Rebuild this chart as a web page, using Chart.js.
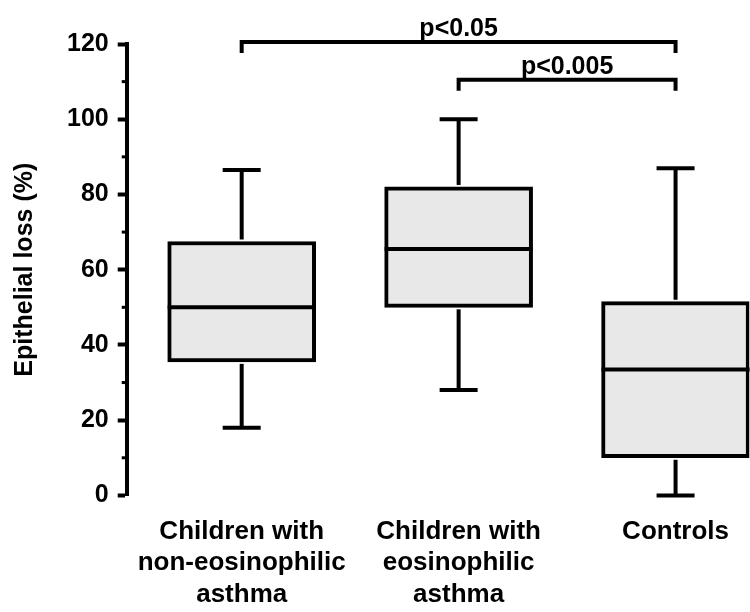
<!DOCTYPE html>
<html>
<head>
<meta charset="utf-8">
<script src="https://cdn.jsdelivr.net/npm/chart.js@4.4.1/dist/chart.umd.min.js"></script>
<style>
  html, body { margin: 0; padding: 0; background: #fff; }
  #wrap { width: 750px; height: 612px; }
</style>
</head>
<body>
<div id="wrap"><canvas id="lossChart"></canvas></div>
<script>
// groups and box plot values (Epithelial loss, %)
const categories = [
    ['Children with', 'non-eosinophilic', 'asthma'],
    ['Children with', 'eosinophilic', 'asthma'],
    ['Controls']
];
const whiskerLow = [18, 28, 0];
const q1 = [35.5, 50, 10];
const median = [50, 65.5, 33.5];
const q3 = [67.5, 82, 51.5];
const whiskerHigh = [86.5, 100, 87];

// significance brackets
const compareFrom = [0, 1];
const compareTo = [2, 2];
const compareLevel = [120.5, 110.5];
const compareLabels = ['p<0.05', 'p<0.005'];

const yTicks = [0, 20, 40, 60, 80, 100, 120];

const FONT = "'Liberation Sans', Arial, Helvetica, sans-serif";

function line(ctx, x1, y1, x2, y2) {
    ctx.beginPath();
    ctx.moveTo(x1, y1);
    ctx.lineTo(x2, y2);
    ctx.stroke();
}

// whiskers, medians, minor ticks and brackets
const boxExtras = {
    id: 'boxExtras',
    afterDatasetsDraw(chart) {
        const ctx = chart.ctx;
        const xs = chart.scales.x;
        const ys = chart.scales.y;
        const bars = chart.getDatasetMeta(0).data;
        const capHalf = 19;
        ctx.save();
        ctx.strokeStyle = '#000';
        ctx.lineWidth = 4;
        ctx.lineCap = 'butt';
        categories.forEach((c, i) => {
            const cx = xs.getPixelForValue(i);
            const top = ys.getPixelForValue(whiskerHigh[i]);
            const bot = ys.getPixelForValue(whiskerLow[i]);
            line(ctx, cx, ys.getPixelForValue(q3[i]) - 2, cx, top);
            line(ctx, cx, ys.getPixelForValue(q1[i]) + 2, cx, bot);
            line(ctx, cx - capHalf, top, cx + capHalf, top);
            line(ctx, cx - capHalf, bot, cx + capHalf, bot);
            const bar = bars[i];
            const m = ys.getPixelForValue(median[i]);
            line(ctx, bar.x - bar.width / 2, m, bar.x + bar.width / 2, m);
        });

        // minor ticks on the y axis
        const ax = chart.chartArea.left;
        ctx.lineWidth = 3;
        for (let v = 10; v < 120; v += 20) {
            const py = ys.getPixelForValue(v);
            line(ctx, ax - 5, py, ax, py);
        }

        // brackets
        ctx.lineWidth = 4;
        ctx.fillStyle = '#000';
        ctx.font = 'bold 25px ' + FONT;
        ctx.textAlign = 'center';
        ctx.textBaseline = 'alphabetic';
        compareLabels.forEach((lab, k) => {
            const x1 = xs.getPixelForValue(compareFrom[k]);
            const x2 = xs.getPixelForValue(compareTo[k]);
            const py = ys.getPixelForValue(compareLevel[k]);
            ctx.beginPath();
            ctx.moveTo(x1, py + 11);
            ctx.lineTo(x1, py);
            ctx.lineTo(x2, py);
            ctx.lineTo(x2, py + 11);
            ctx.stroke();
            ctx.fillText(lab, (x1 + x2) / 2, py - 6);
        });
        ctx.restore();
    }
};

const ctx = document.getElementById('lossChart').getContext('2d');
const lossChart = new Chart(ctx, {
    type: 'bar',
    data: {
        datasets: [{
            data: categories.map((c, i) => ({ x: i, y: [q1[i], q3[i]] })),
            backgroundColor: '#e8e8e8',
            borderColor: '#000',
            borderWidth: 4,
            borderSkipped: false,
            barThickness: 148
        }]
    },
    options: {
        responsive: true,
        maintainAspectRatio: false,
        animation: false,
        layout: {
            padding: { top: 44, right: 0, bottom: -19, left: 0 }
        },
        plugins: {
            legend: { display: false },
            tooltip: { enabled: false }
        },
        scales: {
            x: {
                type: 'linear',
                offset: false,
                min: -0.53,
                max: 2.34,
                afterBuildTicks: (scale) => {
                    scale.ticks = categories.map((c, i) => ({ value: i }));
                },
                grid: { display: false, drawTicks: false, offset: false },
                border: { display: false },
                ticks: {
                    autoSkip: false,
                    maxRotation: 0,
                    padding: 21,
                    color: '#000',
                    font: { family: FONT, size: 26, weight: 'bold', lineHeight: 1.2 },
                    callback: (v) => categories[v] || ''
                }
            },
            y: {
                min: 0,
                max: 120,
                afterBuildTicks: (scale) => {
                    scale.ticks = yTicks.map(v => ({ value: v }));
                },
                grid: {
                    drawOnChartArea: false,
                    tickLength: 9,
                    tickWidth: 4,
                    tickColor: '#000'
                },
                border: { display: true, color: '#000', width: 4 },
                ticks: {
                    padding: 9,
                    color: '#000',
                    font: { family: FONT, size: 25, weight: 'bold' }
                },
                title: {
                    display: true,
                    text: 'Epithelial loss (%)',
                    color: '#000',
                    padding: { top: 10, bottom: 18 },
                    font: { family: FONT, size: 25, weight: 'bold' }
                }
            }
        }
    },
    plugins: [boxExtras]
});
</script>
</body>
</html>
